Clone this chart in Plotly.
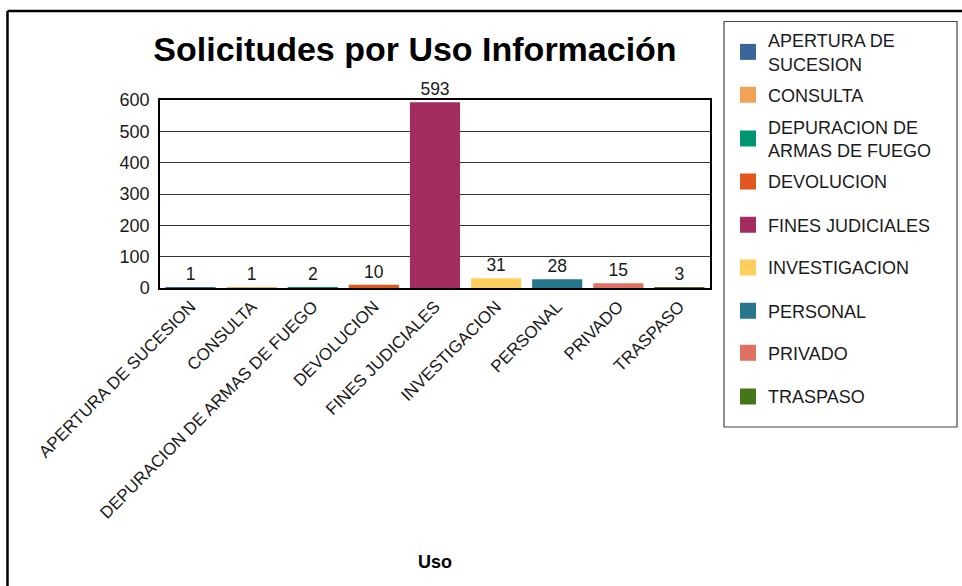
import plotly.graph_objects as go

categories = ["APERTURA DE SUCESION", "CONSULTA", "DEPURACION DE ARMAS DE FUEGO",
              "DEVOLUCION", "FINES JUDICIALES", "INVESTIGACION", "PERSONAL",
              "PRIVADO", "TRASPASO"]
legend_names = ["APERTURA DE<br>SUCESION", "CONSULTA", "DEPURACION DE<br>ARMAS DE FUEGO",
                "DEVOLUCION", "FINES JUDICIALES", "INVESTIGACION", "PERSONAL",
                "PRIVADO", "TRASPASO"]
values = [1, 1, 2, 10, 593, 31, 28, 15, 3]
colors = ["#3A6599", "#F0A257", "#009672", "#E0561E", "#A22C5E",
          "#FFCE5E", "#26768C", "#E07060", "#46761A"]
y_ticks = [0, 100, 200, 300, 400, 500, 600]

FONT = "Liberation Sans, Arial, sans-serif"

W, H = 962, 586
# plot area in pixels
L, R, T, B = 160, 710, 100, 288
# legend entry centres (px from top)
legend_centres = [52, 95, 138.5, 181.7, 225, 267.7, 311, 353, 396.7]


def px(x):
    return (x - L) / (R - L)


def py(y):
    return (B - y) / (B - T)


fig = go.Figure()
for i, (c, v) in enumerate(zip(categories, values)):
    fig.add_trace(go.Bar(
        x=[c], y=[v], name=legend_names[i], marker_color=colors[i],
        marker_line_width=0, width=0.82,
        text=[str(v)], textposition="outside", cliponaxis=False,
        textfont=dict(family=FONT, size=17.5, color="#1a1a1a"),
        showlegend=False,
    ))

# legend entries (one legend per category so they can be spaced evenly)
legends = {}
for i in range(len(categories)):
    key = "legend" if i == 0 else f"legend{i + 1}"
    fig.add_trace(go.Scatter(
        x=[None], y=[None], mode="markers", name=legend_names[i],
        marker=dict(symbol="square", size=16, color=colors[i], line=dict(width=0)),
        legend=key, showlegend=True, hoverinfo="skip",
    ))
    legends[key] = dict(
        x=728 / W, xref="container", xanchor="left",
        y=1 - legend_centres[i] / H, yref="container", yanchor="middle",
        font=dict(family=FONT, size=18, color="#1a1a1a"),
        bgcolor="rgba(0,0,0,0)", borderwidth=0, itemsizing="trace",
        itemclick=False, itemdoubleclick=False,
    )

fig.update_layout(
    width=W, height=H,
    margin=dict(l=L, r=W - R, t=T, b=H - B, autoexpand=False),
    paper_bgcolor="white", plot_bgcolor="white",
    barmode="overlay",
    font=dict(family=FONT, size=16, color="#1a1a1a"),
    title=dict(text="<b>Solicitudes por Uso Información</b>",
               font=dict(family=FONT, size=34, color="black"),
               x=415 / W, xref="container", xanchor="center",
               y=1 - 49 / H, yref="container", yanchor="middle"),
    xaxis=dict(categoryorder="array", categoryarray=categories,
               tickangle=-45, tickfont=dict(family=FONT, size=17, color="#1a1a1a"),
               showline=True, linecolor="black", linewidth=2, mirror=True,
               ticks="", showgrid=False, automargin=False),
    yaxis=dict(range=[0, 600], tickvals=y_ticks,
               tickfont=dict(family=FONT, size=18, color="#1a1a1a"),
               showline=True, linecolor="black", linewidth=1.5, mirror=True,
               showgrid=True, gridcolor="#333333", gridwidth=1.2,
               ticks="", zeroline=False, automargin=False, ticklabelstandoff=5),
    shapes=[
        # outer frame
        dict(type="line", xref="paper", yref="paper", x0=px(7.5), x1=px(964),
             y0=py(11), y1=py(11), line=dict(color="black", width=2.5)),
        dict(type="line", xref="paper", yref="paper", x0=px(7.5), x1=px(7.5),
             y0=py(11), y1=py(590), line=dict(color="black", width=2.5)),
        # legend box
        dict(type="rect", xref="paper", yref="paper", x0=px(724), x1=px(957),
             y0=py(21.5), y1=py(427), line=dict(color="#444444", width=1.2)),
    ],
    annotations=[
        dict(text="<b>Uso</b>", xref="paper", yref="paper", x=0.5, y=py(562),
             showarrow=False, xanchor="center", yanchor="middle",
             font=dict(family=FONT, size=18, color="black")),
    ],
    **legends,
)

fig.write_html("out.html", config={"displayModeBar": False},
               post_script="document.body.style.margin='0';document.body.style.overflow='hidden';")
